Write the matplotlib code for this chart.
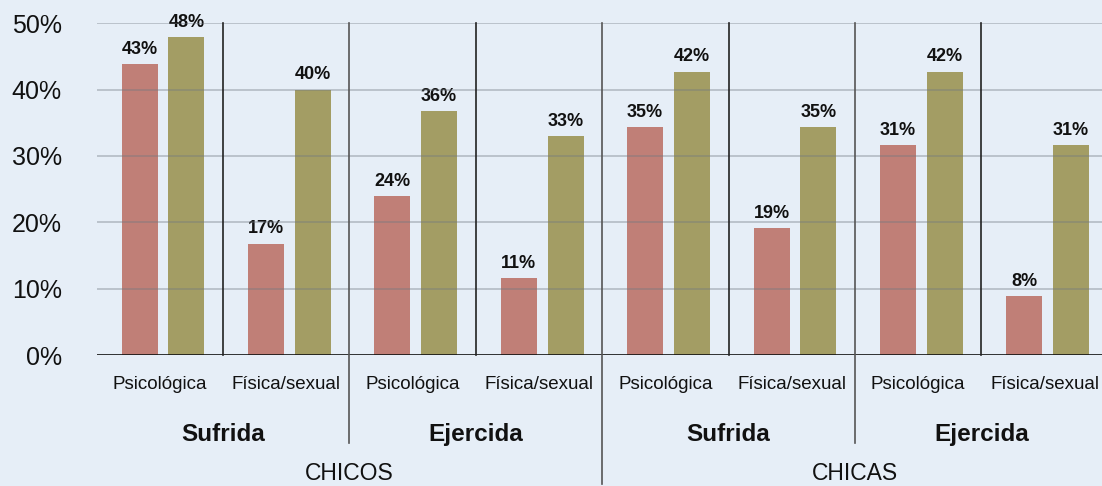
import matplotlib.pyplot as plt
import numpy as np

plt.rcParams['font.family'] = ['Liberation Sans', 'DejaVu Sans']

tipos = ["Psicológica", "Física/sexual"] * 4
violencia = ["Sufrida", "Ejercida", "Sufrida", "Ejercida"]
sexo = ["CHICOS", "CHICAS"]

serie_a = [43.8, 16.8, 24.0, 11.6, 34.3, 19.1, 31.6, 8.9]
serie_b = [47.9, 40.0, 36.8, 33.0, 42.7, 34.3, 42.7, 31.6]
etiq_a = ["43%", "17%", "24%", "11%", "35%", "19%", "31%", "8%"]
etiq_b = ["48%", "40%", "36%", "33%", "42%", "35%", "42%", "31%"]

bg = "#e6eef7"
col_a = "#c07f77"
col_b = "#a39d64"

fig = plt.figure(figsize=(11.02, 4.86), dpi=100, facecolor=bg)
ax = fig.add_axes([96.6 / 1102, 131 / 486, 1 - 96.6 / 1102, (355 - 23.3) / 486])
ax.set_facecolor(bg)

x = np.arange(8)
w = 0.285
ba = ax.bar(x + 0.34, serie_a, w, color=col_a, zorder=2)
bb = ax.bar(x + 0.71, serie_b, w, color=col_b, zorder=2)

for bars, labs in [(ba, etiq_a), (bb, etiq_b)]:
    for b, lab in zip(bars, labs):
        ax.annotate(lab, (b.get_x() + b.get_width() / 2, b.get_height()),
                    xytext=(0, 4.5), textcoords="offset points",
                    ha="center", va="bottom", fontsize=13, fontweight="bold",
                    color="#111111")

ax.set_xlim(0, (1102 - 96.6) / 126.4)
ax.set_ylim(0, 50)
ax.set_yticks([0, 10, 20, 30, 40, 50])
ax.set_yticklabels([f"{v}%" for v in [0, 10, 20, 30, 40, 50]], fontsize=18, color="#111111")
ax.tick_params(axis="y", length=0, pad=25)
ax.set_xticks([])
for s in ax.spines.values():
    s.set_visible(False)

for v in [10, 20, 30, 40, 50]:
    ax.axhline(v, color="#6f7780", alpha=0.4, lw=1.3, zorder=3)
ax.axhline(0, color="#111111", lw=1.2, zorder=4)

# separadores
for i in range(1, 8):
    if i == 4:
        ymin = -19.5
        c = "#555555"
    elif i % 2 == 0:
        ymin = -13.3
        c = "#555555"
    else:
        ymin = 0
        c = "#222222"
    ax.plot([i, i], [ymin, 50], color=c, lw=1.2, clip_on=False, zorder=4)

for i, t in enumerate(tipos):
    ax.text(i + 0.5, -4.4, t, ha="center", va="center", fontsize=13.5,
            color="#111111", clip_on=False)
for i, t in enumerate(violencia):
    ax.text(2 * i + 1, -12.0, t, ha="center", va="center", fontsize=17.5,
            fontweight="bold", color="#111111", clip_on=False)
for i, t in enumerate(sexo):
    ax.text(4 * i + 2, -17.9, t, ha="center", va="center", fontsize=16.5,
            color="#111111", clip_on=False)

fig.savefig("out.png", dpi=100, facecolor=bg)
